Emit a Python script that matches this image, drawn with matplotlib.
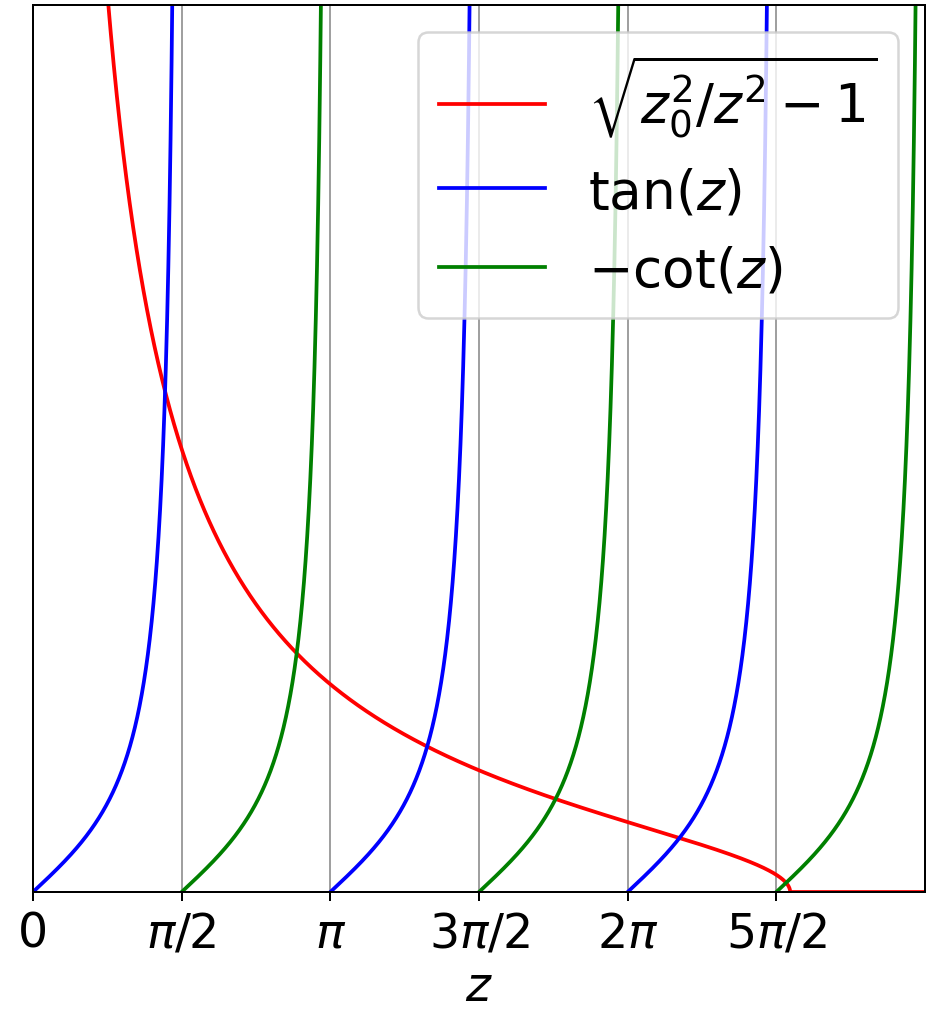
import numpy as np
import matplotlib
matplotlib.use("Agg")
import matplotlib.pyplot as plt

# parameters
z0 = 8.0
y_max = 10.0
x_max = 3 * np.pi
tick_pos = [0, np.pi / 2, np.pi, 3 * np.pi / 2, 2 * np.pi, 5 * np.pi / 2]
tick_labels = ["0", r"$\pi/2$", r"$\pi$", r"$3\pi/2$", r"$2\pi$", r"$5\pi/2$"]

z = np.linspace(1e-4, x_max, 6000)
red = np.sqrt(np.clip(z0**2 / z**2 - 1, 0, None))
tan_z = np.tan(z)
tan_z[tan_z < 0] = np.nan
mcot_z = -1 / np.tan(z)
mcot_z[mcot_z < 0] = np.nan

plt.rcParams["font.size"] = 19
plt.rcParams["mathtext.fontset"] = "dejavusans"

fig = plt.figure(figsize=(933 / 180, 1012 / 180), dpi=180)
ax = fig.add_axes([33 / 933, 1 - 893 / 1012, 892 / 933, 887 / 1012])

ax.plot(z, red, color="red", label=r"$\sqrt{z_0^2/z^2-1}$")
ax.plot(z, tan_z, color="blue", label=r"$\tan(z)$")
ax.plot(z, mcot_z, color="green", label=r"$-\cot(z)$")

ax.set_xlim(0, x_max)
ax.set_ylim(0, y_max)
ax.set_xticks(tick_pos)
ax.set_xticklabels(tick_labels)
ax.set_yticks([])
ax.xaxis.grid(True, color="#a0a0a0", linewidth=0.8)
ax.set_xlabel(r"$z$", labelpad=2.5)
ax.legend(loc="upper right", fontsize=21.3)

fig.savefig("out.png", dpi=180)
